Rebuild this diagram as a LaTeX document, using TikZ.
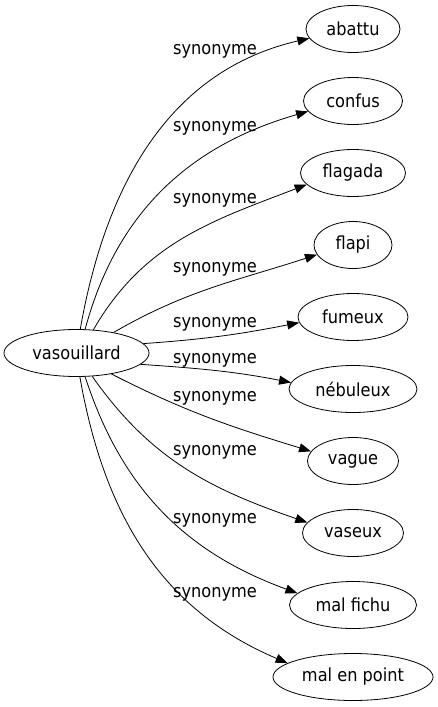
\documentclass[tikz,border=0pt]{standalone}
\usepackage{fontspec}
\setmainfont{DejaVu Sans Condensed}
\usetikzlibrary{arrows.meta,shapes.geometric}

\begin{document}
\begin{tikzpicture}[x=1pt,y=1pt,line width=0.8pt,>={Triangle[length=12pt,width=9pt]}]
    \tikzstyle{word}=[ellipse,draw,inner sep=0pt,minimum height=47pt,font=\fontsize{18}{21}\selectfont]
    \tikzstyle{rel}=[->]
    \tikzstyle{annot}=[anchor=base,inner sep=0pt,font=\fontsize{18}{21}\selectfont]

    \useasboundingbox (0,0) rectangle (437,-707);

    % Draw the headword
    \node[word,minimum width=145pt] (V) at (76.5,-353) {vasouillard};

    % Draw the synonyms, one every 72pt
    \foreach \name/\txt/\w in {1/abattu/94,2/confus/99,3/flagada/105,4/flapi/78,5/fumeux/110,
                               6/nébuleux/128,7/vague/91,8/vaseux/101,9/mal fichu/127,10/mal en point/160}
        \node[word,minimum width=\w pt] (S-\name) at (353,{-29-72*(\name-1)}) {\txt};

    % Connect the headword with every synonym
    % dest / start anchor / out / in / end anchor
    \foreach \dest/\a/\o/\i/\b in {1/81/80/193/192.5,2/70/75/196/193.7,3/54/60/201/194,
                                   4/29/30/198/195.5,5/8/4/191/186,6/350/356/169/174.6,
                                   7/329/333/163/167,8/304/305/161/167.6,9/290/288/160/168,
                                   10/278/280/157/168}
        \draw[rel] (V.\a) to[out=\o,in=\i] (S-\dest.\b);

    % Annotate the edges
    \foreach \name/\y in {1/54,2/131,3/203,4/272,5/327,6/363,7/401,8/455,9/523,10/597}
        \node[annot] (L-\name) at (215,-\y) {synonyme};
\end{tikzpicture}
\end{document}
